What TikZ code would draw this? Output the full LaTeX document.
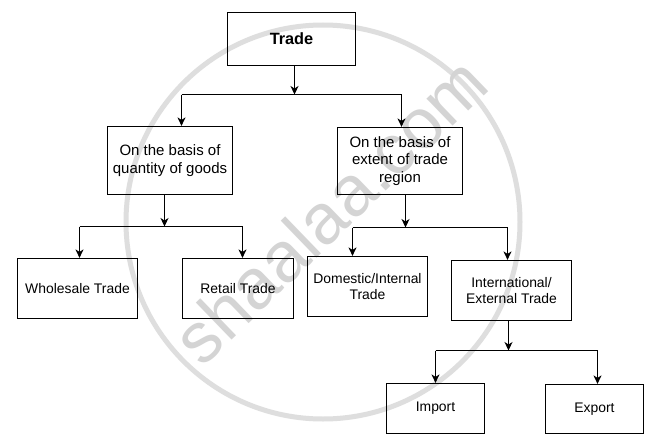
\documentclass[tikz,border=0pt]{standalone}
\usepackage{fontspec}
\setmainfont{Liberation Sans}
\usetikzlibrary{arrows.meta}
\begin{document}
\begin{tikzpicture}[x=1pt,y=-1pt,
  box/.style={draw=black, line width=1.2pt, rectangle, inner sep=0pt, align=center,
    font=\fontsize{13.9}{16.7}\selectfont},
  midbox/.style={box, font=\fontsize{15}{17.8}\selectfont},
  ln/.style={line width=1.2pt},
  arr/.style={line width=1.2pt, -{Stealth[length=8.5pt,width=8pt,inset=2.5pt]}},
  wm/.style={draw=black!13, line width=5pt}]
\useasboundingbox[fill=white] (0,0) rectangle (648,444);

% watermark
\draw[wm] (323,222) circle[radius=197];
\node[text=black!17, font=\fontsize{71}{71}\selectfont, rotate=44, inner sep=0pt] (wmtext) at (330,210) {shaalaa.com};

% nodes
\node[box, minimum width=128pt, minimum height=53pt, font=\fontsize{16.3}{19}\selectfont\bfseries] (trade) at (291.5,39) {Trade};
\node[midbox, minimum width=125pt, minimum height=68pt] (qty) at (170,160.5) {On the basis of\\quantity of goods};
\node[midbox, minimum width=125pt, minimum height=67pt] (ext) at (400,161) {On the basis of\\extent of trade\\region};
\node[box, minimum width=120pt, minimum height=60pt] (whole) at (77.5,288.5) {Wholesale Trade};
\node[box, minimum width=111pt, minimum height=60pt] (retail) at (238,288.5) {Retail Trade};
\node[box, minimum width=120pt, minimum height=60pt] (dom) at (367.5,286.5) {Domestic/Internal\\Trade};
\node[box, minimum width=120pt, minimum height=60pt] (intl) at (511.5,290.5) {International/\\External Trade};
\node[box, minimum width=98pt, minimum height=50pt] (imp) at (435.5,408.5) {Import};
\node[box, minimum width=98pt, minimum height=49pt] (exp) at (594.5,409) {Export};

% junction coordinates
\coordinate (j1) at (294.5,94.5);
\coordinate (j1l) at (181.5,94.5);
\coordinate (j1r) at (401.5,94.5);
\coordinate (j2) at (164.5,226.5);
\coordinate (j2l) at (79.5,226.5);
\coordinate (j2r) at (242.5,226.5);
\coordinate (j3) at (405.5,227.5);
\coordinate (j3l) at (352.5,227.5);
\coordinate (j3r) at (507.5,227.5);
\coordinate (j4) at (508.5,350.5);
\coordinate (j4l) at (435.5,350.5);
\coordinate (j4r) at (597.5,350.5);

% connectors
\draw[arr] (trade.south -| j1) -- (j1);
\draw[ln] (j1l) -- (j1r);
\draw[arr] (j1l) -- (j1l |- qty.north);
\draw[arr] (j1r) -- (j1r |- ext.north);

\draw[arr] (qty.south -| j2) -- (j2);
\draw[ln] (j2l) -- (j2r);
\draw[arr] (j2l) -- (j2l |- whole.north);
\draw[arr] (j2r) -- (j2r |- retail.north);

\draw[arr] (ext.south -| j3) -- (j3);
\draw[ln] (j3l) -- (j3r);
\draw[arr] (j3l) -- (j3l |- dom.north);
\draw[arr] (j3r) -- (j3r |- intl.north);

\draw[arr] (intl.south -| j4) -- (j4);
\draw[ln] (j4l) -- (j4r);
\draw[arr] (j4l) -- (j4l |- imp.north);
\draw[arr] (j4r) -- (j4r |- exp.north);
\end{tikzpicture}
\end{document}
